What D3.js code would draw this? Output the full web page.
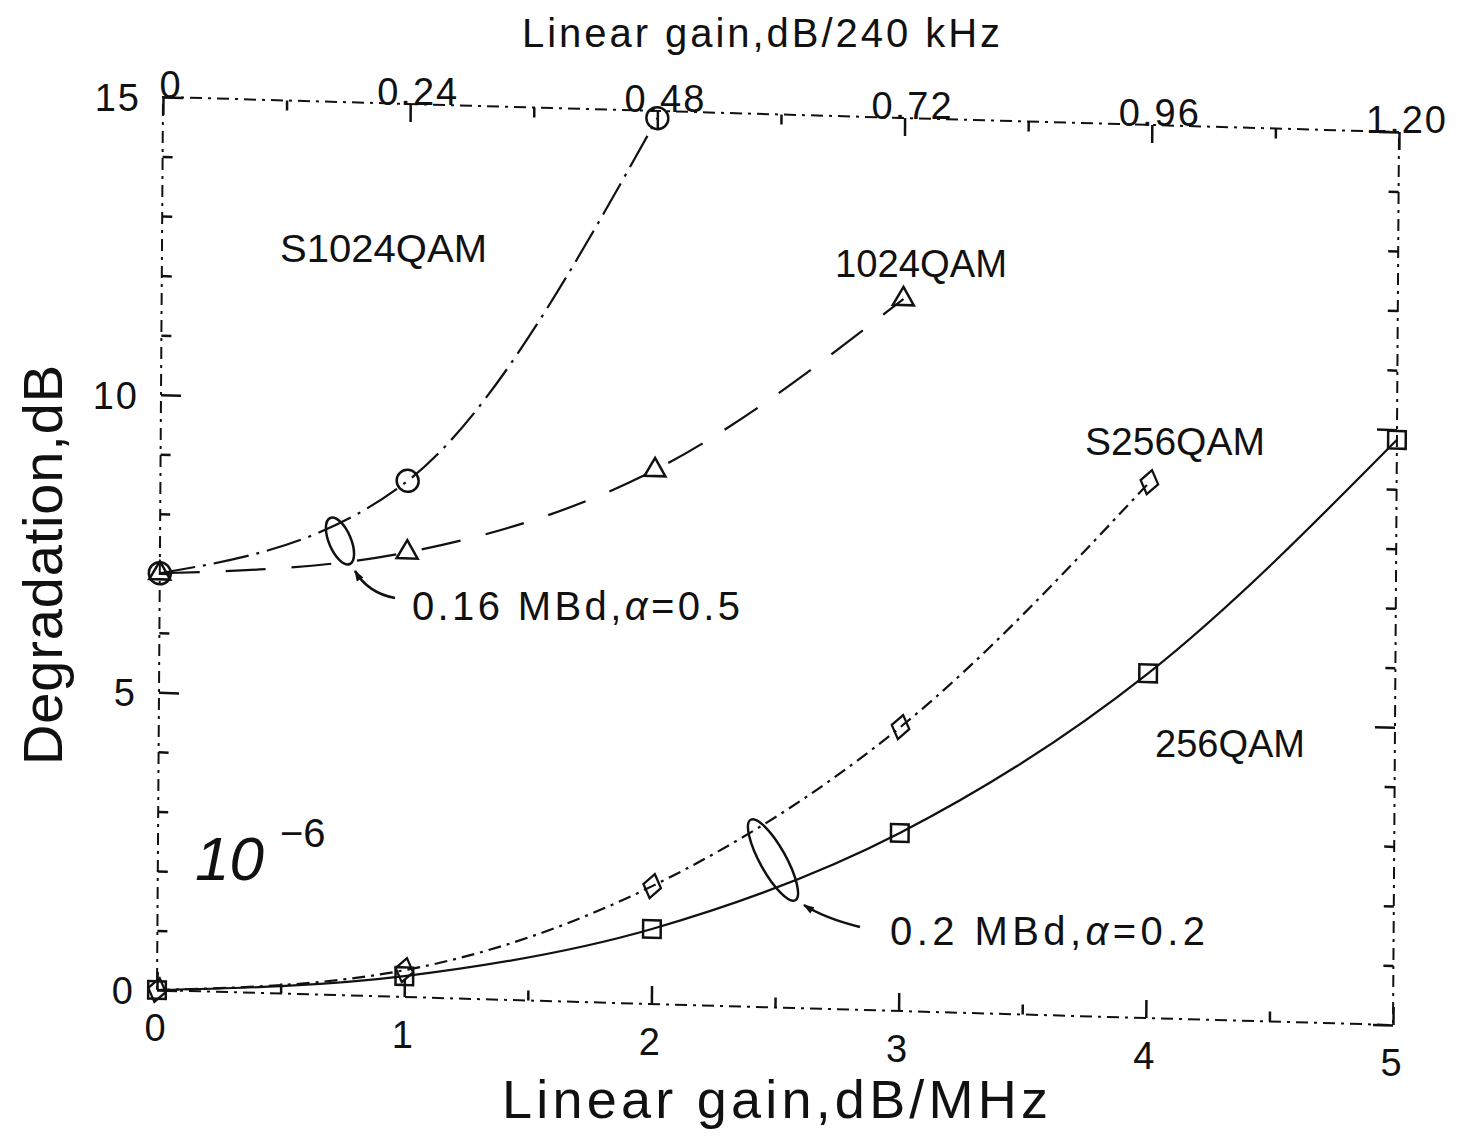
<!DOCTYPE html>
<html>
<head>
<meta charset="utf-8">
<script src="https://cdn.jsdelivr.net/npm/d3@7"></script>
<style>
  body { margin: 0; background: #fff; }
  text { font-family: "Liberation Sans", Arial, sans-serif; fill: #111; }
</style>
</head>
<body>
<svg id="chart" width="1470" height="1136"></svg>
<script>
// Bottom axis: linear gain in dB/MHz; top axis: same slope expressed per 240 kHz
const gainMHz = [0, 1, 2, 3, 4, 5];
const gainKHzLabels = ["0", "0.24", "0.48", "0.72", "0.96", "1.20"];
const gainMinor = [0.5, 1.5, 2.5, 3.5, 4.5];
const degTicks = [0, 5, 10, 15];
const degMinor = [1, 2, 3, 4, 6, 7, 8, 9, 11, 12, 13, 14];

// Degradation (dB) at BER 1e-6 for each modulation scheme
const s1024qam = [7.0, 8.67, 14.88];
const qam1024 = [7.0, 7.47, 8.97, 11.96];
const s256qam = [0, 0.45, 1.98, 4.77, 9.0];
const qam256 = [0, 0.35, 1.26, 2.99, 5.79, 9.83];

const svg = d3.select("#chart");
const W = 1236, H = 893;
// the plotted sheet sits slightly sheared on the page
const M = { a: 1, b: 35 / 1236, c: -6 / 893, d: 1, e: 163, f: 97 };
const toPage = (px, py) => [M.e + M.a * px + M.c * py, M.f + M.b * px + M.d * py];

const x = d3.scaleLinear().domain([0, 5]).range([0, W]);
const y = d3.scaleLinear().domain([0, 15]).range([H, 0]);

const defs = svg.append("defs");
defs.append("marker")
  .attr("id", "arrow").attr("viewBox", "0 0 10 10")
  .attr("refX", 9).attr("refY", 5)
  .attr("markerWidth", 16).attr("markerHeight", 11)
  .attr("markerUnits", "userSpaceOnUse").attr("orient", "auto")
  .append("path").attr("d", "M0,1.5 L10,5 L0,8.5 Z").attr("fill", "#111");

const plot = svg.append("g")
  .attr("transform", `matrix(${M.a},${M.b},${M.c},${M.d},${M.e},${M.f})`);

// broken frame
plot.append("rect")
  .attr("x", 0).attr("y", 0).attr("width", W).attr("height", H)
  .attr("fill", "none").attr("stroke", "#111").attr("stroke-width", 2)
  .attr("stroke-dasharray", "12,6,3,6");

function ticks(axis, tr) {
  plot.append("g").attr("transform", tr).call(axis.tickFormat(""))
    .call(g => g.select(".domain").remove())
    .call(g => g.selectAll("line").attr("stroke", "#111").attr("stroke-width", 2.5));
}
ticks(d3.axisBottom(x).tickValues(gainMHz).tickSize(-18), `translate(0,${H})`);
ticks(d3.axisBottom(x).tickValues(gainMinor).tickSize(-10), `translate(0,${H})`);
ticks(d3.axisTop(x).tickValues(gainMHz).tickSize(-18), "translate(0,0)");
ticks(d3.axisTop(x).tickValues(gainMinor).tickSize(-10), "translate(0,0)");
ticks(d3.axisLeft(y).tickValues(degTicks).tickSize(-20), "translate(0,0)");
ticks(d3.axisLeft(y).tickValues(degMinor).tickSize(-10), "translate(0,0)");
ticks(d3.axisRight(y).tickValues(degTicks).tickSize(-20), `translate(${W},0)`);
ticks(d3.axisRight(y).tickValues(degMinor).tickSize(-10), `translate(${W},0)`);

// curves
const line = d3.line()
  .x((d, i) => x(gainMHz[i]))
  .y(d => y(d))
  .curve(d3.curveMonotoneX);

const series = [
  { values: s1024qam, dash: "36,8,3,8", marker: "circle" },
  { values: qam1024, dash: "40,26", marker: "triangle" },
  { values: s256qam, dash: "13,6,3,6", marker: "diamond" },
  { values: qam256, dash: null, marker: "square" }
];

const symbols = {
  triangle: d3.symbol(d3.symbolTriangle, 190)(),
  diamond: d3.symbol(d3.symbolDiamond2, 320)(),
  square: d3.symbol(d3.symbolSquare, 310)()
};

series.forEach(s => {
  plot.append("path")
    .attr("d", line(s.values))
    .attr("fill", "none").attr("stroke", "#111").attr("stroke-width", 2.2)
    .attr("stroke-dasharray", s.dash);
  const g = plot.append("g");
  s.values.forEach((v, i) => {
    const cx = x(gainMHz[i]), cy = y(v);
    if (s.marker === "circle") {
      g.append("circle").attr("cx", cx).attr("cy", cy).attr("r", 11)
        .attr("fill", "none").attr("stroke", "#111").attr("stroke-width", 2.5);
    } else {
      g.append("path").attr("d", symbols[s.marker])
        .attr("transform", `translate(${cx},${cy})` + (s.marker === "diamond" ? " rotate(12) scale(0.8,1.1)" : ""))
        .attr("fill", "none").attr("stroke", "#111").attr("stroke-width", 2.5);
    }
  });
});

// tick labels
const lab = svg.append("g");
gainMHz.forEach(v => {
  const [px, py] = toPage(x(v), H);
  lab.append("text").attr("x", px - 2).attr("y", py + 51)
    .attr("text-anchor", "middle").attr("font-size", 38).text(v);
});
gainMHz.forEach((v, i) => {
  const [px, py] = toPage(x(v), 0);
  lab.append("text").attr("x", px + 8).attr("y", py + 1)
    .attr("text-anchor", "middle").attr("font-size", 38)
    .attr("letter-spacing", 2).text(gainKHzLabels[i]);
});
degTicks.forEach(v => {
  const [px, py] = toPage(0, y(v));
  lab.append("text").attr("x", px - 22).attr("y", py + 14)
    .attr("text-anchor", "end").attr("font-size", 38)
    .attr("letter-spacing", 2).text(v);
});

// axis titles
svg.append("text").attr("x", 761).attr("y", 47)
  .attr("text-anchor", "middle").attr("font-size", 40)
  .attr("textLength", 478).attr("lengthAdjust", "spacing")
  .text("Linear gain,dB/240 kHz");
svg.append("text").attr("x", 775).attr("y", 1118)
  .attr("text-anchor", "middle").attr("font-size", 54)
  .attr("textLength", 546).attr("lengthAdjust", "spacing")
  .text("Linear gain,dB/MHz");
svg.append("text")
  .attr("transform", "translate(62,565) rotate(-90)")
  .attr("text-anchor", "middle").attr("font-size", 56)
  .attr("textLength", 400).attr("lengthAdjust", "spacing")
  .text("Degradation,dB");

// curve names
const names = [
  { t: "S1024QAM", x: 280, y: 262, w: 207 },
  { t: "1024QAM", x: 835, y: 277, w: 172 },
  { t: "S256QAM", x: 1085, y: 455, w: 180 },
  { t: "256QAM", x: 1155, y: 757, w: 150 }
];
names.forEach(n => {
  svg.append("text").attr("x", n.x).attr("y", n.y).attr("font-size", 39)
    .attr("textLength", n.w).attr("lengthAdjust", "spacingAndGlyphs").text(n.t);
});

// BER note
const ber = svg.append("text").attr("x", 195).attr("y", 880);
ber.append("tspan").attr("font-size", 62).attr("font-style", "italic").text("10");
ber.append("tspan").attr("font-size", 40).attr("dx", 16).attr("dy", -33).text("\u22126");

// symbol-rate annotations
function rateLabel(x0, y0, w, pre, post) {
  const t = svg.append("text").attr("x", x0).attr("y", y0).attr("font-size", 40)
    .attr("textLength", w).attr("lengthAdjust", "spacing");
  t.append("tspan").text(pre);
  t.append("tspan").attr("font-style", "italic").text("\u03b1");
  t.append("tspan").text(post);
}
rateLabel(412, 620, 328, "0.16  MBd,", "=0.5");
rateLabel(890, 945, 315, "0.2  MBd,", "=0.2");

const ann = svg.append("g").attr("fill", "none").attr("stroke", "#111").attr("stroke-width", 2.5);
ann.append("ellipse").attr("cx", 340).attr("cy", 541).attr("rx", 11).attr("ry", 25)
  .attr("transform", "rotate(-23,340,541)");
ann.append("ellipse").attr("cx", 773).attr("cy", 860).attr("rx", 13).attr("ry", 46)
  .attr("transform", "rotate(-29,773,860)");
ann.append("path").attr("d", "M395,598 Q368,593 355,571").attr("marker-end", "url(#arrow)");
ann.append("path").attr("d", "M860,927 Q824,918 804,905").attr("marker-end", "url(#arrow)");
</script>
</body>
</html>
